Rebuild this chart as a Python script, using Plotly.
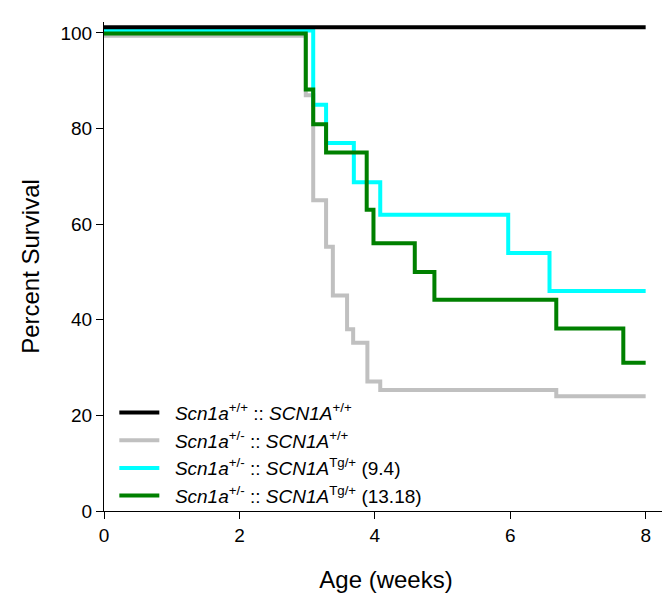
import plotly.graph_objects as go

# Kaplan-Meier style survival data (weeks, percent survival)
black_x = [0, 8.0]
black_y = [101.2, 101.2]

gray_x = [0, 2.98, 3.09, 3.28, 3.38, 3.59, 3.68, 3.89, 4.08, 6.68, 8.0]
gray_y = [99.4, 87.0, 65.0, 55.3, 45.1, 38.0, 35.2, 27.1, 25.3, 24.0, 24.0]

cyan_x = [0, 3.09, 3.28, 3.69, 4.08, 5.97, 6.58, 8.0]
cyan_y = [100.5, 85.0, 77.0, 68.8, 62.0, 54.0, 46.0, 46.0]

green_x = [0, 2.98, 3.09, 3.28, 3.88, 3.98, 4.59, 4.88, 6.68, 7.67, 8.0]
green_y = [99.9, 88.2, 80.9, 75.0, 63.0, 56.0, 50.0, 44.2, 38.2, 31.0, 31.0]

names = {
    "black": "  <i>Scn1a</i><sup>+/+</sup> :: <i>SCN1A</i><sup>+/+</sup>",
    "gray": "  <i>Scn1a</i><sup>+/-</sup> :: <i>SCN1A</i><sup>+/+</sup>",
    "cyan": "  <i>Scn1a</i><sup>+/-</sup> :: <i>SCN1A</i><sup>Tg/+</sup> (9.4)",
    "green": "  <i>Scn1a</i><sup>+/-</sup> :: <i>SCN1A</i><sup>Tg/+</sup> (13.18)",
}

x_ticks = [0, 2, 4, 6, 8]
y_ticks = [0, 20, 40, 60, 80, 100]

FONT = "Liberation Sans, Arial, sans-serif"

fig = go.Figure()
series = [
    (gray_x, gray_y, "#c0c0c0", names["gray"], 2),
    (cyan_x, cyan_y, "#00ffff", names["cyan"], 3),
    (green_x, green_y, "#008000", names["green"], 4),
    (black_x, black_y, "#000000", names["black"], 1),
]
for xs, ys, col, nm, rank in series:
    fig.add_trace(go.Scatter(
        x=xs, y=ys, mode="lines", name=nm, legendrank=rank,
        line=dict(color=col, width=4, shape="hv"),
    ))

# page body has an 8px default margin, so the figure is sized to fit inside
fig.update_layout(
    width=662, height=588,
    margin=dict(l=96, r=2, t=14, b=85),
    paper_bgcolor="white", plot_bgcolor="white",
    font=dict(family=FONT, color="black", size=19),
    showlegend=True,
    legend=dict(
        x=0.0183, y=0.24, xanchor="left", yanchor="top",
        bgcolor="rgba(0,0,0,0)", font=dict(size=19, family=FONT),
        itemwidth=40, traceorder="normal",
    ),
    xaxis=dict(
        range=[0, 8.33], tickvals=x_ticks, ticks="outside", ticklen=7,
        tickwidth=1, tickcolor="black", showline=True, linecolor="black",
        linewidth=1, showgrid=False, zeroline=False, automargin=False,
        tickfont=dict(size=19),
        title=dict(text="Age (weeks)", font=dict(size=24), standoff=26),
    ),
    yaxis=dict(
        range=[0, 102.3], tickvals=y_ticks, ticks="outside", ticklen=7,
        tickwidth=1, tickcolor="black", showline=True, linecolor="black",
        linewidth=1, showgrid=False, zeroline=False, automargin=False,
        tickfont=dict(size=19),
        title=dict(text="Percent Survival", font=dict(size=24), standoff=14),
    ),
)

fig.write_html("out.html")
